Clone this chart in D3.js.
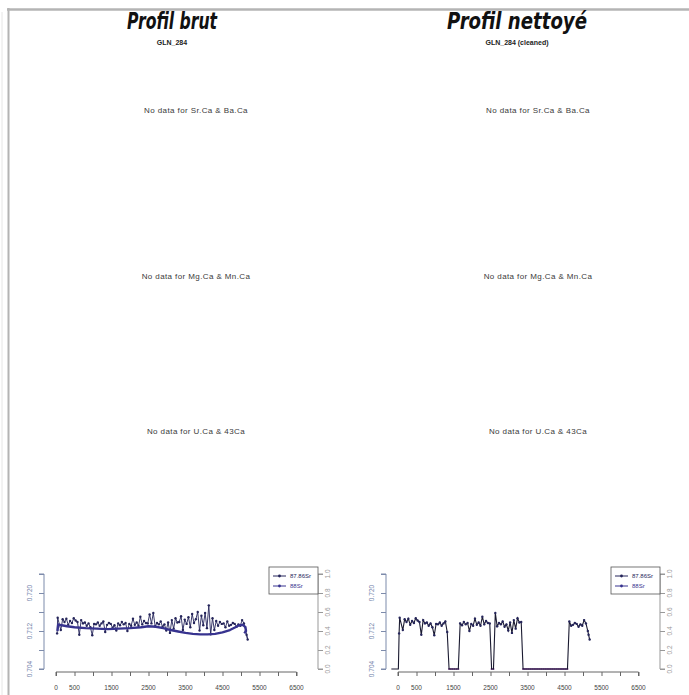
<!DOCTYPE html>
<html>
<head>
<meta charset="utf-8">
<script src="https://cdn.jsdelivr.net/npm/d3@7"></script>
<style>
	body { margin: 0; background: #fff; }
	svg { display: block; }
</style>
</head>
<body>
<div id="chart"></div>
<script>
// DATA
const panelTitles = ["Profil brut", "Profil nettoyé"];
const sampleNames = ["GLN_284", "GLN_284  (cleaned)"];
const missingPairs = ["Sr.Ca & Ba.Ca", "Mg.Ca & Mn.Ca", "U.Ca & 43Ca"];
const seriesNames = ["87.86Sr", "88Sr"];
const xTicks = [0, 500, 1000, 1500, 2000, 2500, 3000, 3500, 4000, 4500, 5000, 5500, 6000, 6500];
const xLabels = [0, 500, 1500, 2500, 3500, 4500, 5500, 6500];
const yTicks = [0.704, 0.708, 0.712, 0.716, 0.72, 0.724];
const yLabels = [0.704, 0.712, 0.72];
const y2Ticks = [0, 0.2, 0.4, 0.6, 0.8, 1];

// raw 87/86Sr profile [distance, ratio]
const raw8786 = [
	[30, 0.7115], [45, 0.7148], [130, 0.7122], [180, 0.7145], [230, 0.7139], [280, 0.7146],
	[330, 0.7133], [380, 0.7141], [430, 0.7137], [480, 0.7147], [530, 0.7142], [580, 0.7139],
	[630, 0.7112], [680, 0.7143], [730, 0.7136], [780, 0.7138], [830, 0.7131], [880, 0.7136],
	[930, 0.7128], [980, 0.7111], [1030, 0.7135], [1080, 0.7134], [1130, 0.7138], [1180, 0.7131],
	[1230, 0.7136], [1280, 0.714], [1330, 0.7118], [1380, 0.7133], [1430, 0.7137], [1480, 0.7135],
	[1530, 0.7127], [1580, 0.7132], [1630, 0.7121], [1680, 0.7136], [1730, 0.7132], [1780, 0.7139],
	[1830, 0.7134], [1880, 0.7137], [1930, 0.712], [1980, 0.7135], [2030, 0.7131], [2080, 0.7146],
	[2130, 0.7133], [2180, 0.7138], [2230, 0.7131], [2280, 0.715], [2330, 0.7134], [2380, 0.7141],
	[2430, 0.7137], [2480, 0.7136], [2530, 0.7155], [2580, 0.7136], [2630, 0.7158], [2680, 0.713],
	[2730, 0.7137], [2780, 0.7134], [2830, 0.714], [2880, 0.7129], [2930, 0.7134], [2980, 0.7121],
	[3030, 0.7138], [3080, 0.7116], [3130, 0.7143], [3180, 0.7125], [3230, 0.7147], [3280, 0.7138],
	[3330, 0.7139], [3380, 0.7151], [3430, 0.7122], [3480, 0.7144], [3530, 0.7135], [3580, 0.7149],
	[3630, 0.7128], [3680, 0.7156], [3730, 0.7137], [3780, 0.7145], [3830, 0.716], [3880, 0.7121],
	[3930, 0.7152], [3980, 0.7132], [4030, 0.7158], [4080, 0.7126], [4130, 0.7174], [4180, 0.7113],
	[4230, 0.7147], [4280, 0.7122], [4330, 0.7141], [4380, 0.7131], [4430, 0.7139], [4480, 0.7135],
	[4530, 0.7136], [4580, 0.7128], [4630, 0.714], [4680, 0.7131], [4730, 0.7133], [4780, 0.7137],
	[4830, 0.7135], [4880, 0.7129], [4930, 0.7134], [4980, 0.7131], [5030, 0.7143], [5080, 0.7136],
	[5130, 0.712], [5180, 0.7102], [5150, 0.7112]
];

// smoothed 88Sr signal (right axis) [distance, intensity]
const smooth88 = [
	[40, 0.4], [60, 0.47], [150, 0.46], [300, 0.45], [500, 0.44], [800, 0.43], [1100, 0.425],
	[1400, 0.42], [1700, 0.425], [2000, 0.43], [2300, 0.44], [2500, 0.45], [2700, 0.445],
	[2900, 0.43], [3100, 0.41], [3300, 0.395], [3500, 0.38], [3700, 0.37], [3900, 0.365],
	[4100, 0.365], [4300, 0.37], [4500, 0.385], [4700, 0.41], [4850, 0.44], [4950, 0.46],
	[5050, 0.465], [5120, 0.44], [5135, 0.4], [5090, 0.375]
];

// cleaning: rejected stretches of the profile
const cleanLeadX = [-180, -130, -80, -30, 10];
const removedRanges = [[1343, 1643], [2481, 2616], [3346, 4592]];

// LAYOUT
const width = 689, height = 695;
const panelShift = [0, 342];
const titleX = [172, 517];
const titleLen = [90, 140];
const colSr87 = "#25255a", colSr88 = "#37338f";
const font = "'Liberation Sans', Arial, sans-serif";

const svg = d3.select("#chart").append("svg").attr("width", width).attr("height", height);

// page frame
svg.append("line").attr("x1", 7).attr("x2", width).attr("y1", 9.5).attr("y2", 9.5)
	.attr("stroke", "#b4b4b4").attr("stroke-width", 2.5);
svg.append("line").attr("x1", 8.5).attr("x2", 8.5).attr("y1", 8).attr("y2", height)
	.attr("stroke", "#b4b4b4").attr("stroke-width", 2);
svg.append("line").attr("x1", 2).attr("x2", 2).attr("y1", 12).attr("y2", height)
	.attr("stroke", "#e6e6e6").attr("stroke-width", 1);

const x = d3.scaleLinear().domain([0, 6500]).range([56, 296.5]);
const y = d3.scaleLinear().domain([0.704, 0.724]).range([669, 574]);
const y2 = d3.scaleLinear().domain([0, 1]).range([669, 574]);

const isRemoved = d => removedRanges.some(r => d >= r[0] && d <= r[1]);

function drawPanel(i) {
	const g = svg.append("g").attr("transform", `translate(${panelShift[i]},0)`);
	const cx = titleX[i] - panelShift[i];

	// TITLES
	g.append("text").attr("x", cx).attr("y", 28.5).attr("text-anchor", "middle")
		.attr("textLength", titleLen[i]).attr("lengthAdjust", "spacingAndGlyphs")
		.style("font-family", "'DejaVu Sans Condensed', 'Liberation Sans', sans-serif")
		.style("font-weight", 700).style("font-style", "italic").style("font-size", "23px")
		.style("fill", "#111").text(panelTitles[i]);
	g.append("text").attr("x", cx).attr("y", 45).attr("text-anchor", "middle")
		.style("font-family", font).style("font-weight", 700).style("font-size", "7px")
		.style("fill", "#222").text(sampleNames[i]);

	// EMPTY ELEMENT PLOTS
	[113, 279, 434].forEach((ty, k) => {
		g.append("text").attr("x", 196).attr("y", ty).attr("text-anchor", "middle")
			.style("font-family", font).style("font-size", "8px").style("fill", "#3a3a3a")
			.style("letter-spacing", "0.4px")
			.text(`No data for ${missingPairs[k]}`);
	});

	// AXES
	const axL = g.append("g").attr("transform", "translate(44,0)")
		.call(d3.axisLeft(y).tickValues(yTicks).tickSize(5).tickFormat(""));
	axL.selectAll("path,line").attr("stroke", "#7d8bab");
	axL.select(".domain").attr("d", `M-5,${y(0.704)}H0V${y(0.724)}H-5`);
	yLabels.forEach(v => {
		g.append("text").attr("transform", `translate(32,${y(v)}) rotate(-90)`)
			.attr("text-anchor", "middle").style("font-family", font).style("font-size", "6.5px")
			.style("fill", "#6f80a8").text(d3.format(".3f")(v));
	});

	const axR = g.append("g").attr("transform", "translate(318,0)")
		.call(d3.axisRight(y2).tickValues(y2Ticks).tickSize(5).tickFormat(""));
	axR.selectAll("path,line").attr("stroke", "#999");
	axR.select(".domain").attr("d", `M5,${y2(0)}H0V${y2(1)}H5`);
	y2Ticks.forEach(v => {
		g.append("text").attr("transform", `translate(330,${y2(v)}) rotate(-90)`)
			.attr("text-anchor", "middle").style("font-family", font).style("font-size", "6.5px")
			.style("fill", "#999").text(d3.format(".1f")(v));
	});

	const axB = g.append("g").attr("transform", "translate(0,672)")
		.call(d3.axisBottom(x).tickValues(xTicks).tickSize(4).tickFormat(""));
	axB.selectAll("path,line").attr("stroke", "#666");
	axB.select(".domain").attr("d", `M${x(0)},4V0H${x(6500)}V4`);
	xLabels.forEach(v => {
		g.append("text").attr("x", x(v)).attr("y", 690).attr("text-anchor", "middle")
			.style("font-family", font).style("font-size", "6.5px").style("fill", "#444").text(v);
	});

	// DATA
	const plot = g.append("g");
	const line = d3.line().x(d => x(d[0])).y(d => y(d[1]));
	const line2 = d3.line().x(d => x(d[0])).y(d => y2(d[1]));

	if (i === 0) {
		plot.append("path").datum(raw8786).attr("d", line).attr("fill", "none")
			.attr("stroke", colSr87).attr("stroke-width", 0.9);
		plot.selectAll("circle.p").data(raw8786).enter().append("circle")
			.attr("cx", d => x(d[0])).attr("cy", d => y(d[1])).attr("r", 1.2).attr("fill", colSr87);
		plot.append("path").datum(smooth88).attr("d", line2).attr("fill", "none")
			.attr("stroke", colSr88).attr("stroke-width", 2.4).attr("stroke-linejoin", "round");
	} else {
		const floor = 0.704;
		const cleaned = cleanLeadX.map(d => [d, floor])
			.concat(raw8786.map(d => [d[0], isRemoved(d[0]) ? floor : d[1]]));
		const zeros88 = raw8786.filter(d => isRemoved(d[0])).map(d => [d[0], 0]);
		plot.append("path").datum(zeros88.filter(d => d[0] > 3300)).attr("d", line2)
			.attr("fill", "none").attr("stroke", "#6a4a9a").attr("stroke-width", 1);
		plot.selectAll("circle.z").data(zeros88).enter().append("circle")
			.attr("cx", d => x(d[0])).attr("cy", d => y2(d[1])).attr("r", 1.1).attr("fill", "#8a4f9e");
		plot.append("path").datum(cleaned).attr("d", line).attr("fill", "none")
			.attr("stroke", "#1a1a30").attr("stroke-width", 1.1);
		plot.selectAll("circle.p").data(cleaned.filter(d => d[1] > floor)).enter().append("circle")
			.attr("cx", d => x(d[0])).attr("cy", d => y(d[1])).attr("r", 1.2).attr("fill", colSr87);
	}

	// LEGEND
	const lg = g.append("g").attr("transform", "translate(269,567)");
	lg.append("rect").attr("width", 49).attr("height", 27).attr("fill", "#fff")
		.attr("stroke", "#555").attr("stroke-width", 0.8);
	[colSr87, colSr88].forEach((c, k) => {
		const yy = 9 + k * 10;
		lg.append("line").attr("x1", 4).attr("x2", 17).attr("y1", yy).attr("y2", yy)
			.attr("stroke", c).attr("stroke-width", 1);
		lg.append("circle").attr("cx", 10.5).attr("cy", yy).attr("r", 1.4).attr("fill", c);
		lg.append("text").attr("x", 21).attr("y", yy + 2).style("font-family", font)
			.style("font-size", "6px").style("fill", c).text(seriesNames[k]);
	});
}

drawPanel(0);
drawPanel(1);
</script>
</body>
</html>
